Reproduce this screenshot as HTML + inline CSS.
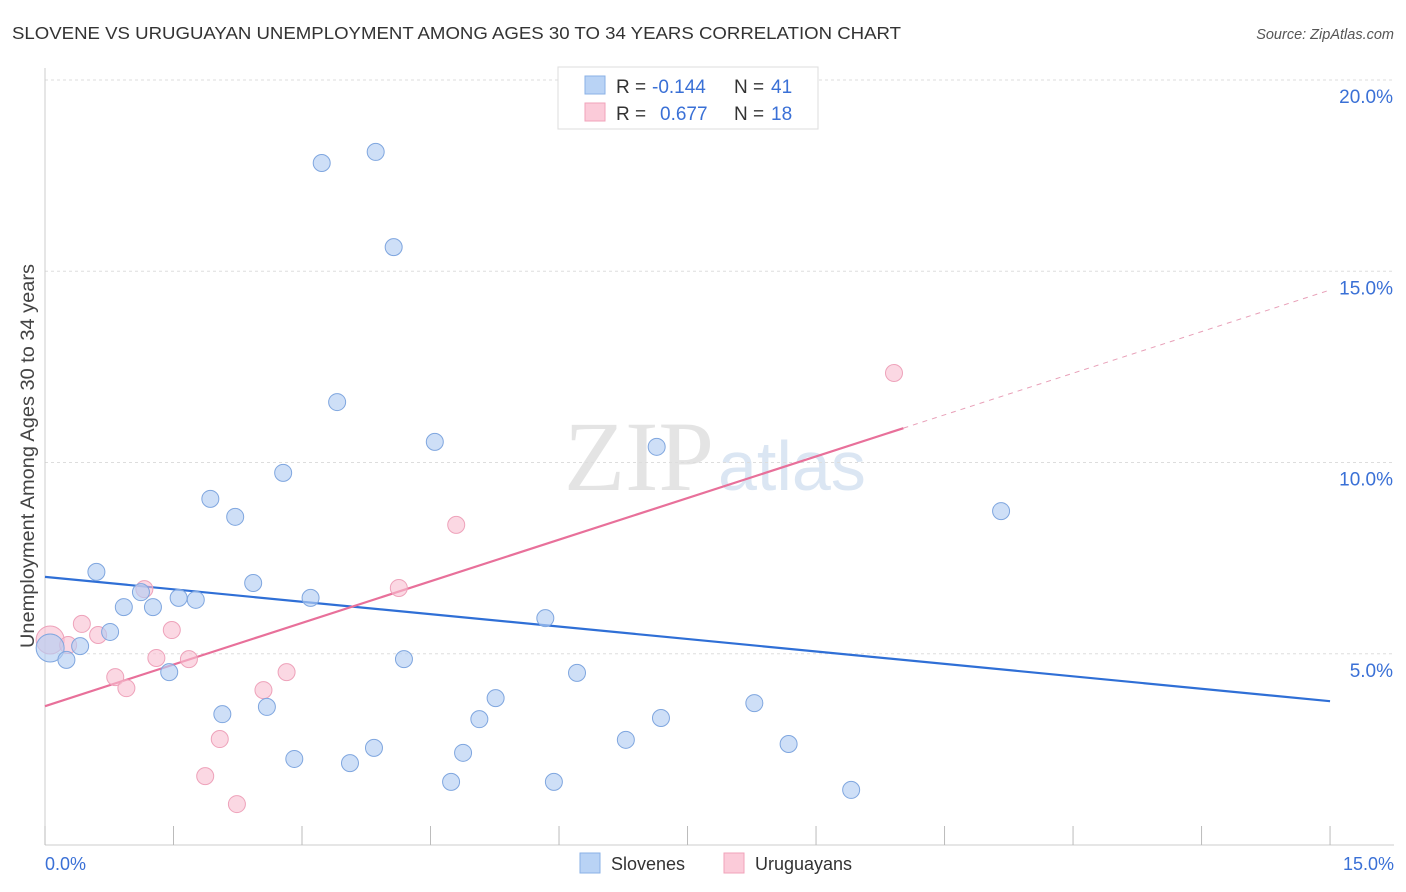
<!DOCTYPE html>
<html><head><meta charset="utf-8"><style>
body{margin:0;background:#fff;font-family:"Liberation Sans",sans-serif;}
svg{display:block}
</style></head><body>
<svg id="chart" width="1406" height="892">
<text x="12" y="39" font-size="17.5" fill="#333" textLength="889" lengthAdjust="spacingAndGlyphs">SLOVENE VS URUGUAYAN UNEMPLOYMENT AMONG AGES 30 TO 34 YEARS CORRELATION CHART</text>
<text x="1394" y="39" font-size="14.5" fill="#555" font-style="italic" text-anchor="end">Source: ZipAtlas.com</text>
<text x="34" y="456" font-size="19" fill="#444" text-anchor="middle" textLength="384" lengthAdjust="spacingAndGlyphs" transform="rotate(-90 34 456)">Unemployment Among Ages 30 to 34 years</text>
<text x="714" y="490" font-size="100" fill="#e4e4e4" font-family="Liberation Serif,serif" text-anchor="end">ZIP</text>
<text x="718" y="490" font-size="70" fill="#dbe6f3">atlas</text>
<g id="grid"></g><g id="axes"></g><g id="lines"></g><g id="points"></g>
<g>
<rect x="558" y="67" width="260" height="62" fill="#fff" stroke="#ddd"/>
<rect x="585" y="76" width="20" height="18" fill="#b9d3f5" stroke="#8ab0e6"/>
<rect x="585" y="103" width="20" height="18" fill="#fbcbd9" stroke="#f0a3ba"/>
<text x="616" y="93" font-size="19" fill="#333">R =</text>
<text x="652" y="93" font-size="19" fill="#3a70d6">-0.144</text>
<text x="734" y="93" font-size="19" fill="#333">N =</text>
<text x="771" y="93" font-size="19" fill="#3a70d6">41</text>
<text x="616" y="120" font-size="19" fill="#333">R =</text>
<text x="660" y="120" font-size="19" fill="#3a70d6">0.677</text>
<text x="734" y="120" font-size="19" fill="#333">N =</text>
<text x="771" y="120" font-size="19" fill="#3a70d6">18</text>
</g>
<g>
<rect x="580" y="853" width="20" height="20" fill="#b9d3f5" stroke="#8ab0e6"/>
<text x="611" y="870" font-size="18" fill="#333">Slovenes</text>
<rect x="724" y="853" width="20" height="20" fill="#fbcbd9" stroke="#f0a3ba"/>
<text x="755" y="870" font-size="18" fill="#333">Uruguayans</text>
</g>
</svg>
<script>
const yTicks=[5,10,15,20];
const yTickLabels=["5.0%","10.0%","15.0%","20.0%"];
const blueX=[0.06,0.25,0.41,0.60,0.76,0.92,1.12,1.26,1.45,1.56,1.76,1.93,2.07,2.22,2.43,2.59,2.78,2.91,3.10,3.23,3.41,3.56,3.84,3.86,4.07,4.19,4.55,4.74,4.88,5.07,5.26,5.84,5.94,6.21,6.78,7.14,7.19,8.28,8.68,9.41,11.16];
const blueY=[5.15,4.84,5.20,7.14,5.57,6.22,6.61,6.22,4.52,6.46,6.41,9.05,3.42,8.58,6.85,3.61,9.73,2.25,6.46,17.83,11.58,2.14,2.54,18.12,15.63,4.86,10.54,1.65,2.41,3.29,3.84,5.93,1.65,4.50,2.75,10.41,3.32,3.71,2.64,1.44,8.73];
const pinkX=[0.06,0.27,0.43,0.62,0.82,0.95,1.16,1.30,1.48,1.68,1.87,2.04,2.24,2.55,2.82,4.13,4.80,9.91];
const pinkY=[5.36,5.23,5.78,5.49,4.39,4.10,6.69,4.89,5.62,4.86,1.80,2.77,1.07,4.05,4.52,6.72,8.37,12.34];
const blueTrend=[7.01,3.76];
const pinkTrend=[3.63,14.51];
const pinkSolidEnd=10.02;
const NS="http://www.w3.org/2000/svg";
const X=v=>45+v*85.67, Y=v=>845-v*38.25;
function mk(t,a,p){const e=document.createElementNS(NS,t);for(const k in a)e.setAttribute(k,a[k]);p.appendChild(e);return e;}
const grid=document.getElementById('grid'),axes=document.getElementById('axes'),lines=document.getElementById('lines'),pts=document.getElementById('points');
yTicks.forEach((t,i)=>{
 const l=mk('line',{x1:45,x2:1394,y1:Y(t),y2:Y(t),stroke:'#ddd','stroke-dasharray':'3,3'},grid);
 
 
 const tx=mk('text',{x:1393,y:Y(t)+23,'font-size':19,fill:'#3a70d6','text-anchor':'end'},axes);
 tx.textContent=yTickLabels[i];
 
 
});
mk('line',{x1:45,x2:45,y1:68,y2:845,stroke:'#ccc'},axes);
mk('line',{x1:45,x2:1394,y1:845,y2:845,stroke:'#ccc'},axes);
for(let i=0;i<=10;i++){mk('line',{x1:X(i*1.5),x2:X(i*1.5),y1:826,y2:845,stroke:'#bbb'},axes);}
const x0=mk('text',{x:45,y:870,'font-size':18,fill:'#3a70d6'},axes);x0.textContent='0.0%';


const x1=mk('text',{x:1394,y:870,'font-size':18,fill:'#3a70d6','text-anchor':'end'},axes);x1.textContent='15.0%';


const bl=mk('line',{x1:X(0),y1:Y(blueTrend[0]),x2:X(15),y2:Y(blueTrend[1]),stroke:'#2f6fd6','stroke-width':2.2},lines);


const pm=(pinkTrend[1]-pinkTrend[0])/15;
const pl=mk('line',{x1:X(0),y1:Y(pinkTrend[0]),x2:X(pinkSolidEnd),y2:Y(pinkTrend[0]+pm*pinkSolidEnd),stroke:'#e8709a','stroke-width':2.2},lines);


const pd=mk('line',{x1:X(pinkSolidEnd),y1:Y(pinkTrend[0]+pm*pinkSolidEnd),x2:X(15),y2:Y(pinkTrend[1]),stroke:'#e8a0b8','stroke-width':1,'stroke-dasharray':'5,5'},lines);


pinkX.forEach((x,i)=>{
 const c=mk('circle',{cx:X(x),cy:Y(pinkY[i]),r:i===0?14:8.5,fill:'rgba(248,190,208,0.6)',stroke:'#eea2ba','stroke-width':1},pts);
 
 
});
blueX.forEach((x,i)=>{
 const c=mk('circle',{cx:X(x),cy:Y(blueY[i]),r:i===0?14:8.5,fill:'rgba(180,206,243,0.65)',stroke:'#7fa6df','stroke-width':1},pts);
 
 
});
</script>
</body></html>
